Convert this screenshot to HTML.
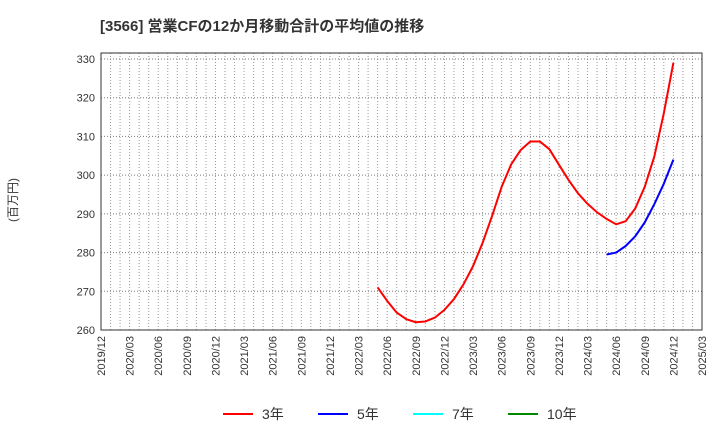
<!DOCTYPE html>
<html><head><meta charset="utf-8"><style>
body{margin:0;background:#fff;font-family:"Liberation Sans","Noto Sans CJK JP",sans-serif;}
</style></head><body>
<svg id="c" width="720" height="440" xmlns="http://www.w3.org/2000/svg">
<text x="100" y="31" font-size="15" font-weight="bold" fill="#333" font-family="Liberation Sans, Noto Sans CJK JP, sans-serif">[3566]  営業CFの12か月移動合計の平均値の推移</text>
<text transform="translate(17,200) rotate(-90)" font-size="12" fill="#333" text-anchor="middle" font-family="Liberation Sans, Noto Sans CJK JP, sans-serif">(百万円)</text>
<g id="grid"></g><g id="axes"></g><g id="series"></g>
<g font-size="14" fill="#333" font-family="Liberation Sans, Noto Sans CJK JP, sans-serif">
<g><line x1="223" y1="414" x2="253" y2="414" stroke="#f00" stroke-width="2"/><text x="262" y="419">3年</text></g>
<g><line x1="318" y1="414" x2="348" y2="414" stroke="#00f" stroke-width="2"/><text x="357" y="419">5年</text></g>
<g><line x1="413" y1="414" x2="443" y2="414" stroke="#0ff" stroke-width="2"/><text x="452" y="419">7年</text></g>
<g><line x1="508" y1="414" x2="538" y2="414" stroke="#080" stroke-width="2"/><text x="547" y="419">10年</text></g>
</g>
</svg>
<script>
const yTicks=[260,270,280,290,300,310,320,330];
const xTickLabels=["2019/12","2020/03","2020/06","2020/09","2020/12","2021/03","2021/06","2021/09","2021/12","2022/03","2022/06","2022/09","2022/12","2023/03","2023/06","2023/09","2023/12","2024/03","2024/06","2024/09","2024/12","2025/03"];
const red3Start=29; // months after 2019/12 (2022/05)
const red3=[271,267.5,264.5,262.8,262,262.2,263.2,265.2,268,271.8,276.5,282.5,289.5,297,302.8,306.5,308.7,308.7,306.7,302.7,298.8,295.3,292.6,290.4,288.7,287.3,288.1,291.4,297,304.8,316,329];
const blue5Start=53; // 2024/05
const blue5=[279.5,280,281.7,284.2,287.8,292.5,297.8,304];
const L=101,R=702,T=53,B=330;
const X=m=>L+(R-L)*m/63;
const Y=v=>B-(v-260)*(B-59)/70;
const NS="http://www.w3.org/2000/svg";
function mk(tag,attrs,parent){const e=document.createElementNS(NS,tag);for(const k in attrs)e.setAttribute(k,attrs[k]);parent.appendChild(e);return e;}
const grid=document.getElementById('grid'),axes=document.getElementById('axes'),series=document.getElementById('series');
for(let m=1;m<63;m++){const g=mk('line',{x1:X(m),x2:X(m),y1:T,y2:B,stroke:'#999','stroke-dasharray':'1,2','stroke-width':1},grid);

}
yTicks.forEach(v=>{const g=mk('line',{x1:L,x2:R,y1:Y(v),y2:Y(v),stroke:'#777','stroke-dasharray':'1,2','stroke-width':1},grid);


const t=mk('text',{x:L-6,y:Y(v)+4,'font-size':11,'text-anchor':'end',fill:'#333'},axes);t.textContent=v;

});
xTickLabels.forEach((s,i)=>{const x=X(i*3);const t=mk('text',{transform:`translate(${x+4},${B+6}) rotate(-90)`,'font-size':11,'text-anchor':'end',fill:'#333'},axes);t.textContent=s;

});
const fr=mk('rect',{x:L,y:T,width:R-L,height:B-T,fill:'none',stroke:'#333','stroke-width':1},axes);


function line(arr,start,color,name){const p=mk('polyline',{points:arr.map((v,i)=>X(start+i)+','+Y(v)).join(' '),fill:'none',stroke:color,'stroke-width':2,'stroke-linejoin':'round'},series);

}
line(red3,red3Start,'#f00','series-3y-line');
line(blue5,blue5Start,'#00f','series-5y-line');
</script>
</body></html>
